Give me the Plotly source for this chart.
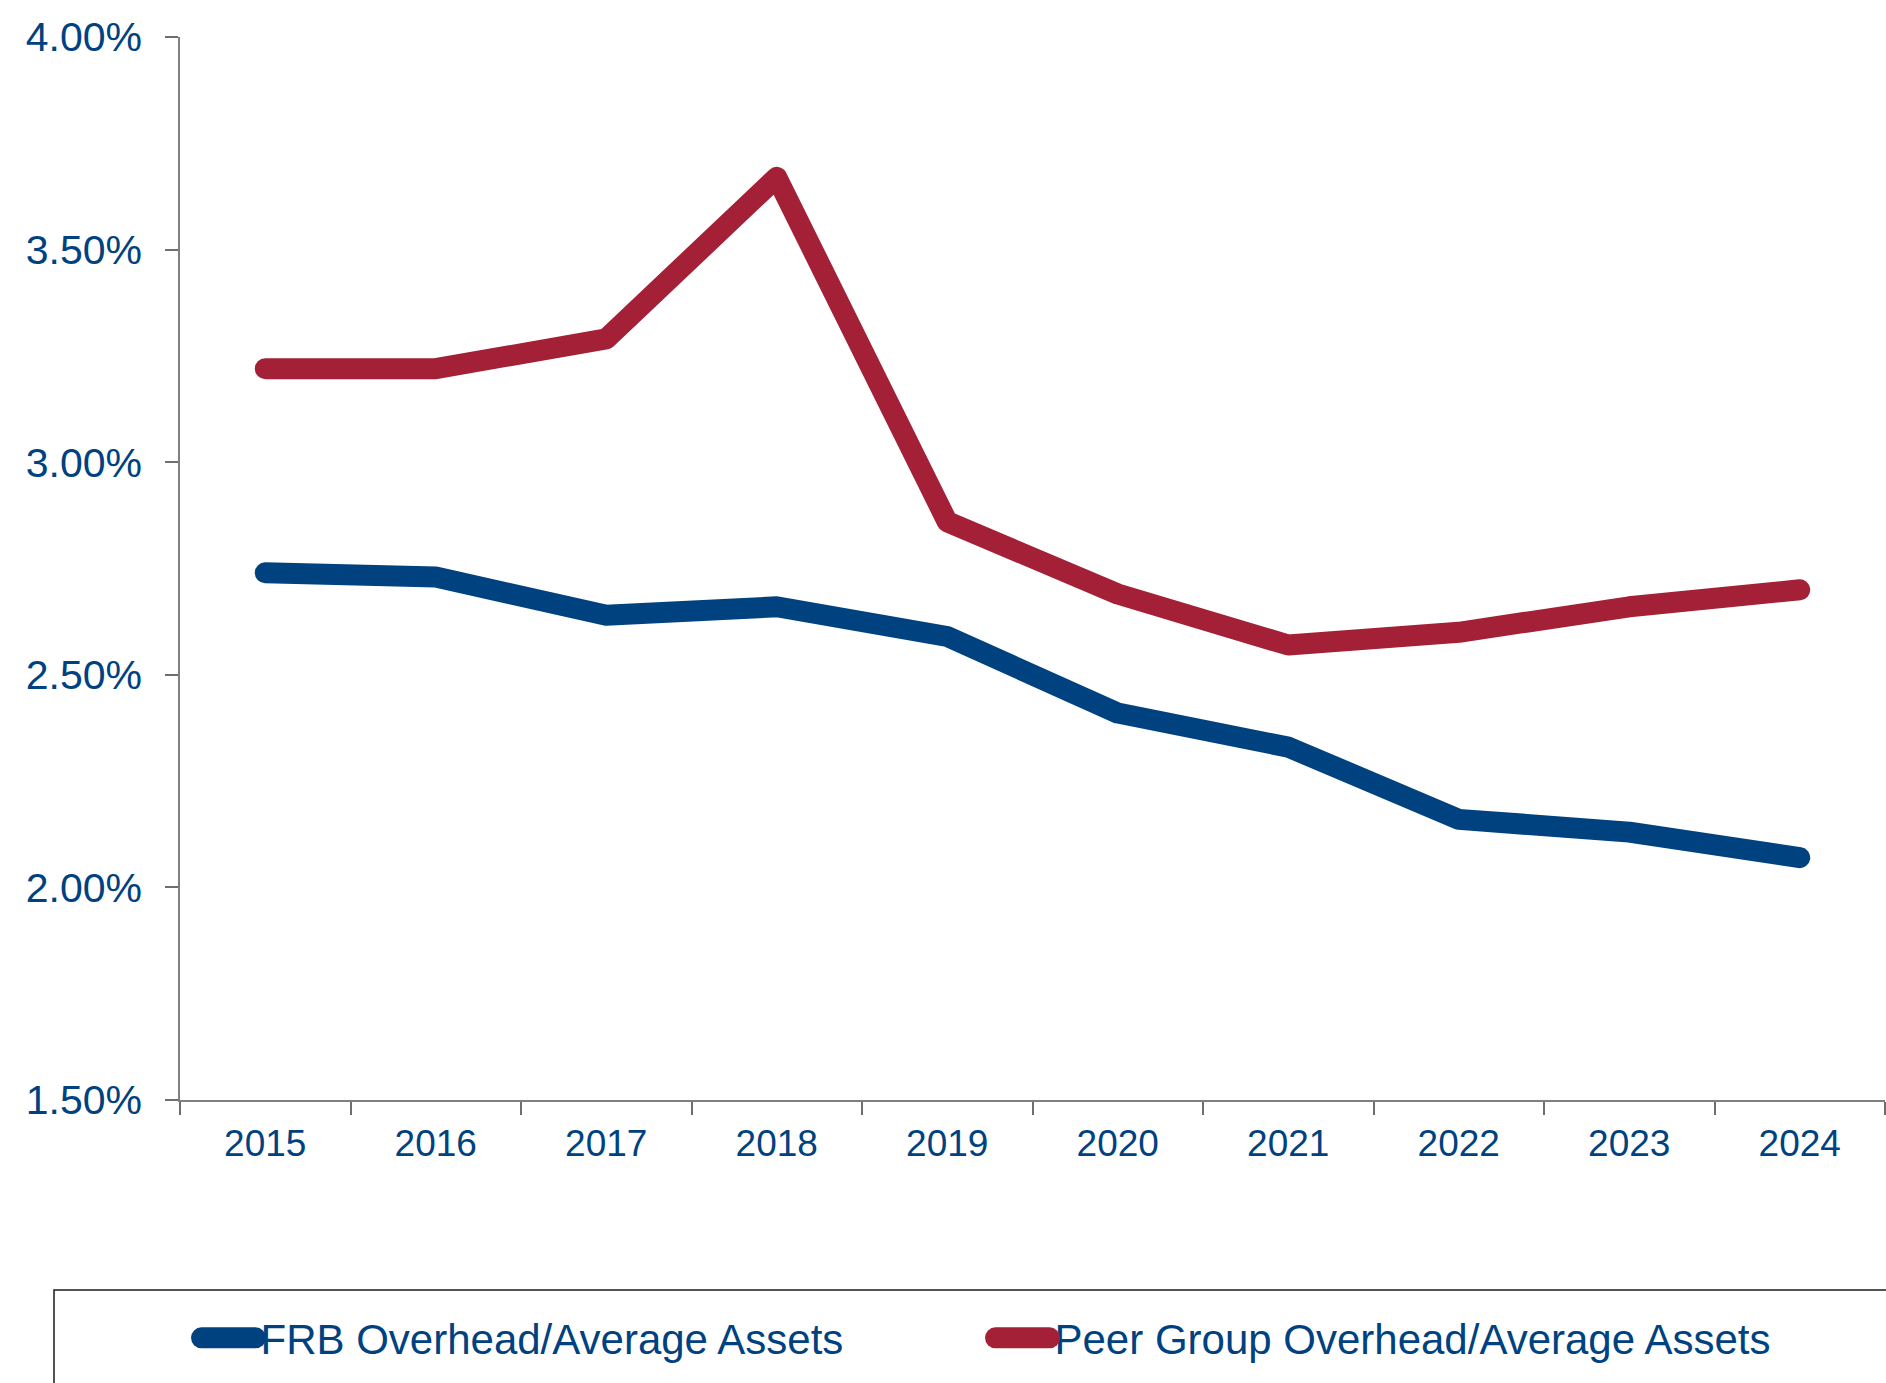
import plotly.graph_objects as go

years = ["2015", "2016", "2017", "2018", "2019", "2020", "2021", "2022", "2023", "2024"]
frb_overhead = [2.74, 2.73, 2.64, 2.66, 2.59, 2.41, 2.33, 2.16, 2.13, 2.07]
peer_overhead = [3.22, 3.22, 3.29, 3.67, 2.86, 2.69, 2.57, 2.60, 2.66, 2.70]
y_ticks = [1.5, 2.0, 2.5, 3.0, 3.5, 4.0]
y_tick_labels = ["1.50%", "2.00%", "2.50%", "3.00%", "3.50%", "4.00%"]

BLUE = "#00427F"
RED = "#A32036"
TEXT = "#00427F"
FONT = "Arial, Liberation Sans, sans-serif"

W, H = 1886, 1383
ML, MR, MT, MB = 180, 1, 37, 283
PW = W - ML - MR
PH = H - MT - MB

fig = go.Figure()
fig.add_trace(go.Scatter(x=years, y=frb_overhead, mode="lines",
                         name="FRB Overhead/Average Assets",
                         line=dict(color=BLUE, width=21)))
fig.add_trace(go.Scatter(x=years, y=peer_overhead, mode="lines",
                         name="Peer Group Overhead/Average Assets",
                         line=dict(color=RED, width=21)))

def px_x(p):
    return (p - ML) / PW

def px_y(p):
    return (H - MB - p) / PH

fig.update_layout(
    width=W, height=H,
    margin=dict(l=ML, r=MR, t=MT, b=MB, autoexpand=False),
    paper_bgcolor="white", plot_bgcolor="white",
    font=dict(family=FONT, color=TEXT),
    showlegend=True,
    legend=dict(orientation="h", x=px_x(196.5), xanchor="left",
                y=px_y(1338), yanchor="middle",
                font=dict(size=42, color=TEXT, family=FONT),
                itemwidth=54, entrywidth=725, entrywidthmode="pixels",
                bgcolor="rgba(0,0,0,0)", borderwidth=0),
    xaxis=dict(type="category", tickson="boundaries", ticks="outside", ticklen=13,
               tickcolor="#6e6e6e", tickwidth=1.5,
               showline=True, linecolor="#808080", linewidth=1.5,
               showgrid=False, zeroline=False, ticklabelstandoff=10,
               tickfont=dict(size=37, color=TEXT, family=FONT),
               range=[-0.5, 9.5], fixedrange=True),
    yaxis=dict(range=[1.5, 4.0], tickmode="array", tickvals=y_ticks, ticktext=y_tick_labels,
               ticks="outside", ticklen=13, tickcolor="#6e6e6e", tickwidth=1.5,
               showline=True, linecolor="#808080", linewidth=1.5,
               showgrid=False, zeroline=False, ticklabelstandoff=15,
               tickfont=dict(size=41, color=TEXT, family=FONT)),
    shapes=[dict(type="rect", xref="paper", yref="paper",
                 x0=px_x(54), x1=px_x(2100), y0=px_y(1290), y1=px_y(1600),
                 line=dict(color="#1a1a1a", width=1.5), fillcolor="rgba(0,0,0,0)",
                 layer="below")],
)

post = """
document.body.style.margin='0';
document.body.style.padding='0';
var fix = function(){
  document.querySelectorAll('.scatterlayer path.js-line').forEach(function(p){
    p.style.strokeLinecap='round'; p.style.strokeLinejoin='round';
  });
  document.querySelectorAll('.legend path.js-line').forEach(function(p){
    p.style.strokeLinecap='round'; p.style.strokeWidth='21px';
  });
  document.querySelectorAll('.legend .scrollbox, .legend').forEach(function(e){
    e.removeAttribute('clip-path');
  });
};
fix(); setTimeout(fix, 200);
"""
fig.write_html("out.html", post_script=post, config={"displayModeBar": False})
